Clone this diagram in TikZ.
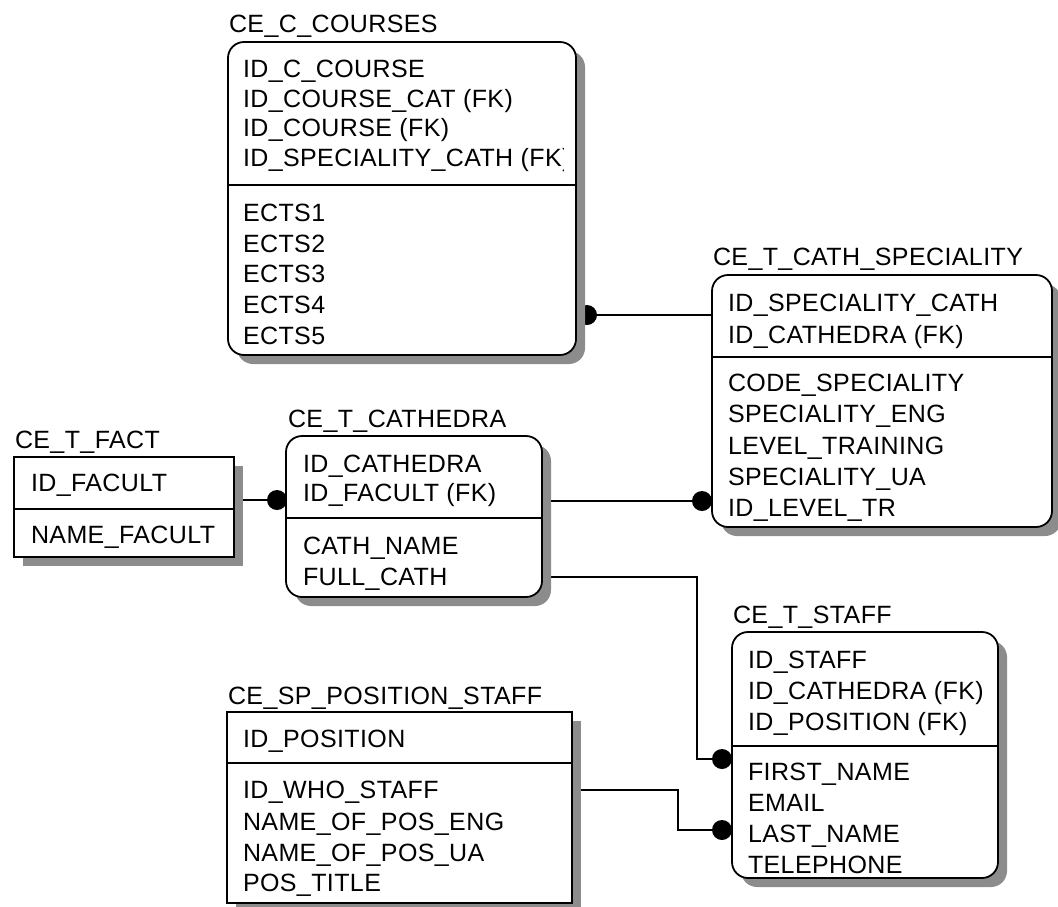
\documentclass[tikz,border=0pt]{standalone}
\usepackage{fontspec}
\setmainfont{Liberation Sans}[LetterSpace=1.6]
\usetikzlibrary{shadows}
\pgfdeclarelayer{background}
\pgfsetlayers{background,main}
\definecolor{shadowc}{gray}{0.55}
\begin{document}
\begin{tikzpicture}[x=1pt,y=-1pt,
  every node/.style={inner sep=0pt, outer sep=0pt},
  tbox/.style={draw, line width=1.8pt, fill=white, anchor=north west,
    drop shadow={shadow xshift=9pt, shadow yshift=-9pt, fill=shadowc, opacity=1}},
  rbox/.style={tbox, rounded corners=16pt},
  fld/.style={anchor=base west, font=\fontsize{25}{30}\selectfont},
  ttl/.style={fld},
  div/.style={line width=1.8pt},
  conn/.style={line width=1.6pt},
  dot/.style={circle, fill=black, minimum size=20pt, inner sep=0pt}
]
\useasboundingbox (0,0) rectangle (1058,906);

% ---------- tables ----------
\node[rbox, minimum width=348pt, minimum height=313pt] (courses) at (228,42) {};
\node[rbox, minimum width=340pt, minimum height=252pt] (spec) at (712,275) {};
\node[rbox, minimum width=256pt, minimum height=161pt] (cath) at (286,436) {};
\node[tbox, minimum width=220pt, minimum height=100pt] (fact) at (14,457) {};
\node[tbox, minimum width=345pt, minimum height=191pt] (pos) at (227,712) {};
\node[rbox, minimum width=266pt, minimum height=246pt] (staff) at (732,632) {};

% dividers
\draw[div] (228,185) -- (576,185);
\draw[div] (712,357) -- (1052,357);
\draw[div] (286,518) -- (542,518);
\draw[div] (14,509) -- (234,509);
\draw[div] (227,763) -- (572,763);
\draw[div] (732,746) -- (998,746);

% ---------- CE_C_COURSES ----------
\node[ttl] (tcourses) at (229,32) {CE\_C\_COURSES};
\node[fld] (c1) at (243,77.7) {ID\_C\_COURSE};
\node[fld] (c2) at (243,107) {ID\_COURSE\_CAT (FK)};
\node[fld] (c3) at (243,136.5) {ID\_COURSE (FK)};
\begin{scope}
  \clip (228,42) rectangle (563,185);
  \node[fld] (c4) at (243,166.5) {ID\_SPECIALITY\_CATH (FK)};
\end{scope}
\node[fld] (c5) at (243,221.5) {ECTS1};
\node[fld] (c6) at (243,252) {ECTS2};
\node[fld] (c7) at (243,282.7) {ECTS3};
\node[fld] (c8) at (243,313) {ECTS4};
\node[fld] (c9) at (243,344) {ECTS5};

% ---------- CE_T_CATH_SPECIALITY ----------
\node[ttl] (tspec) at (713,265) {CE\_T\_CATH\_SPECIALITY};
\node[fld] (s1) at (728,311) {ID\_SPECIALITY\_CATH};
\node[fld] (s2) at (728,343) {ID\_CATHEDRA (FK)};
\node[fld] (s3) at (728,391) {CODE\_SPECIALITY};
\node[fld] (s4) at (728,422) {SPECIALITY\_ENG};
\node[fld] (s5) at (728,454) {LEVEL\_TRAINING};
\node[fld] (s6) at (728,485) {SPECIALITY\_UA};
\node[fld] (s7) at (728,516.5) {ID\_LEVEL\_TR};

% ---------- CE_T_CATHEDRA ----------
\node[ttl] (tcath) at (288,427) {CE\_T\_CATHEDRA};
\node[fld] (k1) at (303,472) {ID\_CATHEDRA};
\node[fld] (k2) at (303,501.5) {ID\_FACULT (FK)};
\node[fld] (k3) at (303,554) {CATH\_NAME};
\node[fld] (k4) at (303,585) {FULL\_CATH};

% ---------- CE_T_FACT ----------
\node[ttl] (tfact) at (15,448) {CE\_T\_FACT};
\node[fld] (f1) at (31,491.5) {ID\_FACULT};
\node[fld] (f2) at (31,543) {NAME\_FACULT};

% ---------- CE_SP_POSITION_STAFF ----------
\node[ttl] (tpos) at (228,704) {CE\_SP\_POSITION\_STAFF};
\node[fld] (p1) at (243,747) {ID\_POSITION};
\node[fld] (p2) at (243,798) {ID\_WHO\_STAFF};
\node[fld] (p3) at (243,830) {NAME\_OF\_POS\_ENG};
\node[fld] (p4) at (243,861) {NAME\_OF\_POS\_UA};
\node[fld] (p5) at (243,891) {POS\_TITLE};

% ---------- CE_T_STAFF ----------
\node[ttl] (tstaff) at (733,623) {CE\_T\_STAFF};
\node[fld] (w1) at (748,668) {ID\_STAFF};
\node[fld] (w2) at (748,699.5) {ID\_CATHEDRA (FK)};
\node[fld] (w3) at (748,730) {ID\_POSITION (FK)};
\node[fld] (w4) at (748,780) {FIRST\_NAME};
\node[fld] (w5) at (748,811) {EMAIL};
\node[fld] (w6) at (748,842) {LAST\_NAME};
\node[fld] (w7) at (748,873) {TELEPHONE};

% ---------- connectors (behind the tables) ----------
\begin{pgfonlayer}{background}
  \node[dot] (d1) at (587,315) {};
  \draw[conn] (d1.center) -- (spec.west |- d1);

  \node[dot] (d2) at (277,500) {};
  \draw[conn] (fact.east |- d2) -- (d2.center);

  \node[dot] (d3) at (702,501) {};
  \draw[conn] (cath.east |- d3) -- (d3.center);

  \node[dot] (d4) at (722,759) {};
  \coordinate (e4) at (542,577);
  \draw[conn] (e4) -- (697,577) -- (697,759) -- (d4.center);

  \node[dot] (d5) at (722,830) {};
  \coordinate (e5) at (572,790);
  \draw[conn] (e5) -- (678,790) -- (678,830) -- (d5.center);
\end{pgfonlayer}
\end{tikzpicture}
\end{document}
